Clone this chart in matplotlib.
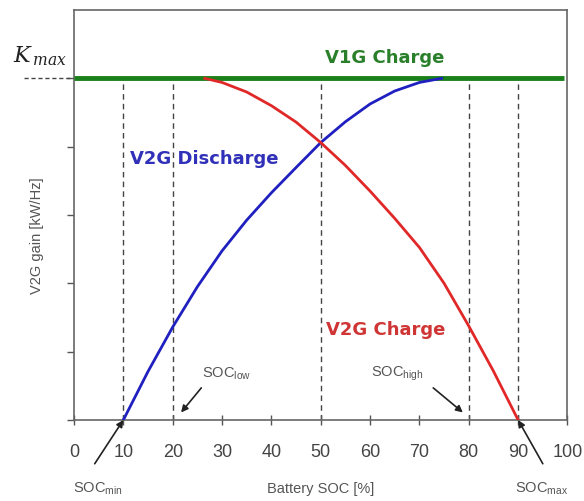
import matplotlib
matplotlib.use("Agg")
import matplotlib.pyplot as plt

plt.rcParams['font.family'] = ['Liberation Sans', 'DejaVu Sans']

# Data
kmax = 1.0
blue_x = [10, 15, 20, 25, 30, 35, 40, 45, 50, 55, 60, 65, 70, 74.5]
blue_y = [0.0, 0.142, 0.272, 0.39, 0.495, 0.585, 0.665, 0.739, 0.812, 0.873, 0.925, 0.963, 0.988, 1.0]
red_x = [26.5, 30, 35, 40, 45, 50, 55, 60, 65, 70, 75, 80, 85, 90]
red_y = [1.0, 0.988, 0.96, 0.92, 0.872, 0.812, 0.745, 0.67, 0.59, 0.505, 0.40, 0.275, 0.143, 0.0]
green_x = [0, 99.3]
green_y = [kmax, kmax]
soc_marks = [10, 20, 50, 80, 90]
xticks = [0, 10, 20, 30, 40, 50, 60, 70, 80, 90, 100]
yticks = [0, 0.2, 0.4, 0.6, 0.8, 1.0]

fig = plt.figure(figsize=(5.84, 5.01), dpi=100)
ax = fig.add_axes([0.1267, 0.1617, 0.845, 0.8183])
ax.set_xlim(0, 100)
ax.set_ylim(0, 1.2)

for s in soc_marks:
    ax.plot([s, s], [0, kmax], color='#444444', lw=1.0, ls=(0, (4, 3)), zorder=1)

ax.plot(green_x, green_y, color='#1a801a', lw=3.5, zorder=3, solid_capstyle='butt')
ax.plot(blue_x, blue_y, color='#2020c0', lw=2.0, zorder=4)
ax.plot(red_x, red_y, color='#e02828', lw=2.0, zorder=4)

# Kmax dashed extension to the left
ax.plot([-10.2, 0], [kmax, kmax], color='#444444', lw=1.0, ls=(0, (3, 2)), clip_on=False)
ax.text(-1.5, 1.065, r'$K_{\,max}$', ha='right', va='center', fontsize=16,
        family='DejaVu Serif', math_fontfamily='dejavuserif', color='#222222')

bold = dict(fontsize=13, fontweight='bold', family='DejaVu Sans', va='center')
ax.text(63.0, 1.06, 'V1G Charge', color='#2a802a', ha='center', **bold)
ax.text(11.3, 0.765, 'V2G Discharge', color='#3030b8', ha='left', **bold)
ax.text(51.0, 0.262, 'V2G Charge', color='#d03535', ha='left', **bold)

gray = '#555555'
arrow = dict(arrowstyle='-|>', color='#222222', lw=1.2, mutation_scale=10,
             shrinkA=0, shrinkB=0)
lab = dict(fontsize=10.5, color=gray, ha='center', va='center')

ax.text(31.0, 0.135, r'SOC$_{\mathregular{low}}$', **lab)
ax.annotate('', xy=(21.7, 0.022), xytext=(25.8, 0.094), arrowprops=arrow)
ax.text(65.5, 0.135, r'SOC$_{\mathregular{high}}$', **lab)
ax.annotate('', xy=(78.8, 0.022), xytext=(72.8, 0.094), arrowprops=arrow)
ax.text(4.8, -0.2, r'SOC$_{\mathregular{min}}$', clip_on=False, **lab)
ax.annotate('', xy=(10, 0), xytext=(4.2, -0.128), arrowprops=arrow, annotation_clip=False)
ax.text(94.8, -0.2, r'SOC$_{\mathregular{max}}$', clip_on=False, **lab)
ax.annotate('', xy=(90, 0), xytext=(95.0, -0.128), arrowprops=arrow, annotation_clip=False)

ax.set_xticks(xticks)
ax.set_xticklabels([str(t) for t in xticks])
ax.set_yticks(yticks)
ax.set_yticklabels(['' for _ in yticks])
ax.tick_params(axis='x', direction='inout', length=7, width=1, colors='#555555',
               labelsize=13, labelcolor='#444444', pad=14)
ax.tick_params(axis='y', direction='out', length=5, width=1, colors='#555555')

for sp in ax.spines.values():
    sp.set_color('#666666')
    sp.set_linewidth(1.2)

ax.set_xlabel('Battery SOC [%]', fontsize=10.5, color='#555555')
ax.set_ylabel('V2G gain [kW/Hz]', fontsize=10.5, color='#555555')
ax.yaxis.set_label_coords(-0.06, 0.45)
ax.xaxis.set_label_coords(0.5, -0.152)

fig.savefig('out.png', dpi=100)
